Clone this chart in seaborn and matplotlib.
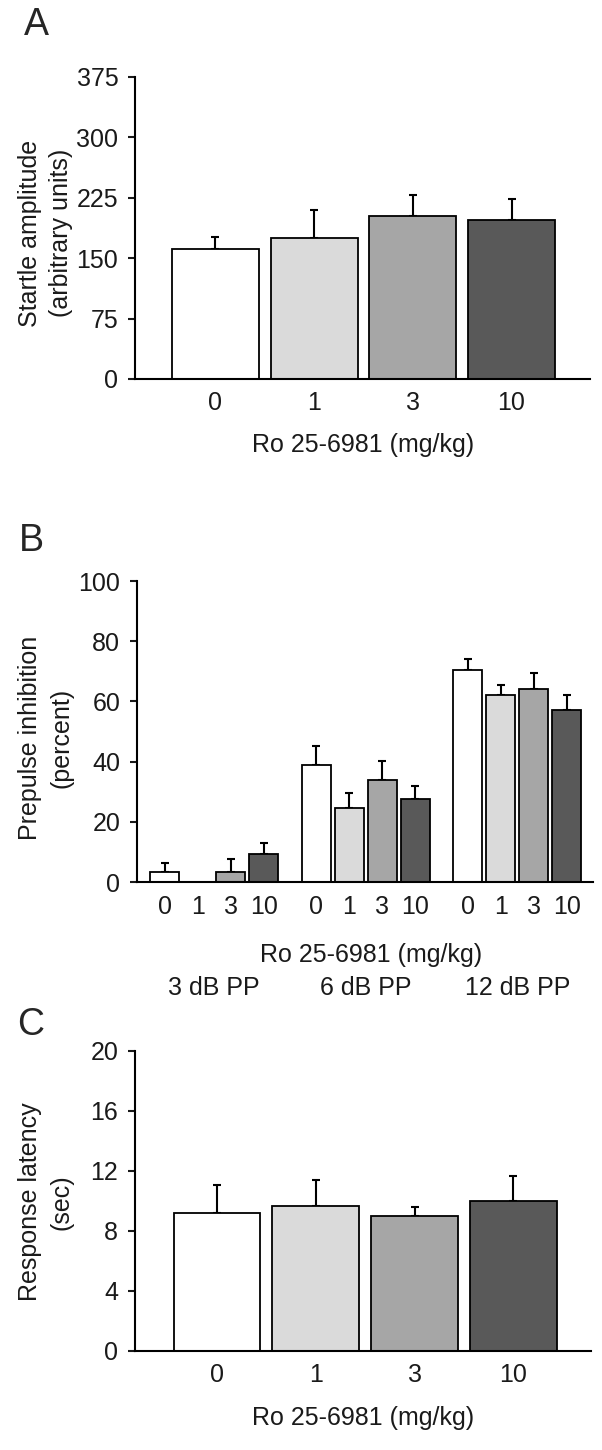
import pandas as pd
import matplotlib.pyplot as plt
import seaborn as sns

# Data
doses = ['0', '1', '3', '10']
dose_colors = ['#ffffff', '#dadada', '#a6a6a6', '#595959']

startle_mean = [162, 175, 202, 197]
startle_sem = [14, 35, 26, 26]

pp_levels = ['3 dB PP', '6 dB PP', '12 dB PP']
ppi_3db = [3.2, 0.0, 3.2, 9.4]
ppi_3db_sem = [3.1, 0.0, 4.6, 3.6]
ppi_6db = [39.0, 24.5, 33.8, 27.6]
ppi_6db_sem = [6.3, 5.1, 6.3, 4.2]
ppi_12db = [70.3, 62.0, 64.0, 57.3]
ppi_12db_sem = [3.8, 3.6, 5.3, 4.7]

latency_mean = [9.2, 9.7, 9.0, 10.0]
latency_sem = [1.9, 1.7, 0.6, 1.7]

sns.set_theme(style='ticks')
plt.rcParams['font.family'] = ['Liberation Sans', 'DejaVu Sans']

W, H = 602, 1450
TXT = '#1a1a1a'
fig = plt.figure(figsize=(W / 100, H / 100), dpi=100)


def px_axes(left, right, top, bottom):
    return fig.add_axes([left / W, 1 - bottom / H, (right - left) / W, (bottom - top) / H])


def style(ax, yticks, ylabel, ylab_x, ylab_y, xlab_x, xlab_y):
    sns.despine(ax=ax)
    for s in ['left', 'bottom']:
        ax.spines[s].set_linewidth(1.5)
        ax.spines[s].set_color('black')
    ax.set_ylim(yticks[0], yticks[-1])
    ax.set_yticks(yticks)
    ax.tick_params(axis='y', length=5, width=1.5, pad=7, labelsize=18, colors=TXT)
    ax.tick_params(axis='x', length=0, pad=9, labelsize=18, colors=TXT)
    ax.set_ylabel(ylabel, fontsize=18, va='center', linespacing=1.4, color=TXT)
    ax.yaxis.set_label_coords(ylab_x, ylab_y)
    ax.set_xlabel('Ro 25-6981 (mg/kg)', fontsize=18, va='center', color=TXT)
    ax.xaxis.set_label_coords(xlab_x, xlab_y)
    ax.set_facecolor('white')


def add_errors(ax, means, sems):
    for bar, m, e in zip(ax.patches, means, sems):
        if e > 0:
            ax.errorbar(bar.get_x() + bar.get_width() / 2, m, yerr=[[0], [e]],
                        fmt='none', ecolor='black', elinewidth=1.5, capsize=3,
                        capthick=1.5, zorder=1)


# Panel A
axA = px_axes(135, 590, 77, 379)
dfA = pd.DataFrame({'dose': doses, 'value': startle_mean})
sns.barplot(data=dfA, x='dose', y='value', hue='dose', order=doses, hue_order=doses,
            palette=dose_colors, width=0.88, edgecolor='black', linewidth=1.3,
            errorbar=None, legend=False, ax=axA, zorder=2)
add_errors(axA, startle_mean, startle_sem)
axA.set_xlim(-0.815, 3.795)
style(axA, [0, 75, 150, 225, 300, 375], 'Startle amplitude\n(arbitrary units)',
      -0.197, 0.483, 0.501, -0.2185)

# Panel B
axB = px_axes(137, 593, 581, 882)
rows = []
for lvl, vals, errs in zip(pp_levels, [ppi_3db, ppi_6db, ppi_12db],
                           [ppi_3db_sem, ppi_6db_sem, ppi_12db_sem]):
    for d, v, e in zip(doses, vals, errs):
        rows.append({'pp': lvl, 'dose': d, 'value': v, 'sem': e})
dfB = pd.DataFrame(rows)
sns.barplot(data=dfB, x='pp', y='value', hue='dose', order=pp_levels, hue_order=doses,
            palette=dose_colors, width=0.87, gap=0.12, edgecolor='black', linewidth=1.3,
            errorbar=None, legend=False, ax=axB, zorder=2)
tick_pos, tick_lab = [], []
for d, cont in zip(doses, axB.containers):
    sub = dfB[dfB['dose'] == d]
    for bar, m, e in zip(cont, sub['value'], sub['sem']):
        xc = bar.get_x() + bar.get_width() / 2
        tick_pos.append(xc)
        tick_lab.append(d)
        if e > 0:
            axB.errorbar(xc, m, yerr=[[0], [e]], fmt='none', ecolor='black',
                         elinewidth=1.5, capsize=3, capthick=1.5, zorder=1)
order = sorted(range(len(tick_pos)), key=lambda i: tick_pos[i])
axB.set_xticks([tick_pos[i] for i in order])
axB.set_xticklabels([tick_lab[i] for i in order])
axB.set_xlim(-0.51, 2.5)
style(axB, [0, 20, 40, 60, 80, 100], 'Prepulse inhibition\n(percent)',
      -0.2007, 0.478, 0.513, -0.2425)
for i, lvl in enumerate(pp_levels):
    axB.text(i, -0.352, lvl, transform=axB.get_xaxis_transform(), ha='center',
             va='center', fontsize=18, color=TXT)

# Panel C
axC = px_axes(135, 591, 1051, 1351)
dfC = pd.DataFrame({'dose': doses, 'value': latency_mean})
sns.barplot(data=dfC, x='dose', y='value', hue='dose', order=doses, hue_order=doses,
            palette=dose_colors, width=0.88, edgecolor='black', linewidth=1.3,
            errorbar=None, legend=False, ax=axC, zorder=2)
add_errors(axC, latency_mean, latency_sem)
axC.set_xlim(-0.83, 3.785)
style(axC, [0, 4, 8, 12, 16, 20], 'Response latency\n(sec)',
      -0.196, 0.497, 0.50, -0.223)

# Panel letters
for letter, x, y in [('A', 36, 25), ('B', 31, 541), ('C', 31, 1025)]:
    fig.text(x / W, 1 - y / H, letter, fontsize=27, ha='center', va='center')

fig.savefig('out.png', dpi=100, facecolor='white')
